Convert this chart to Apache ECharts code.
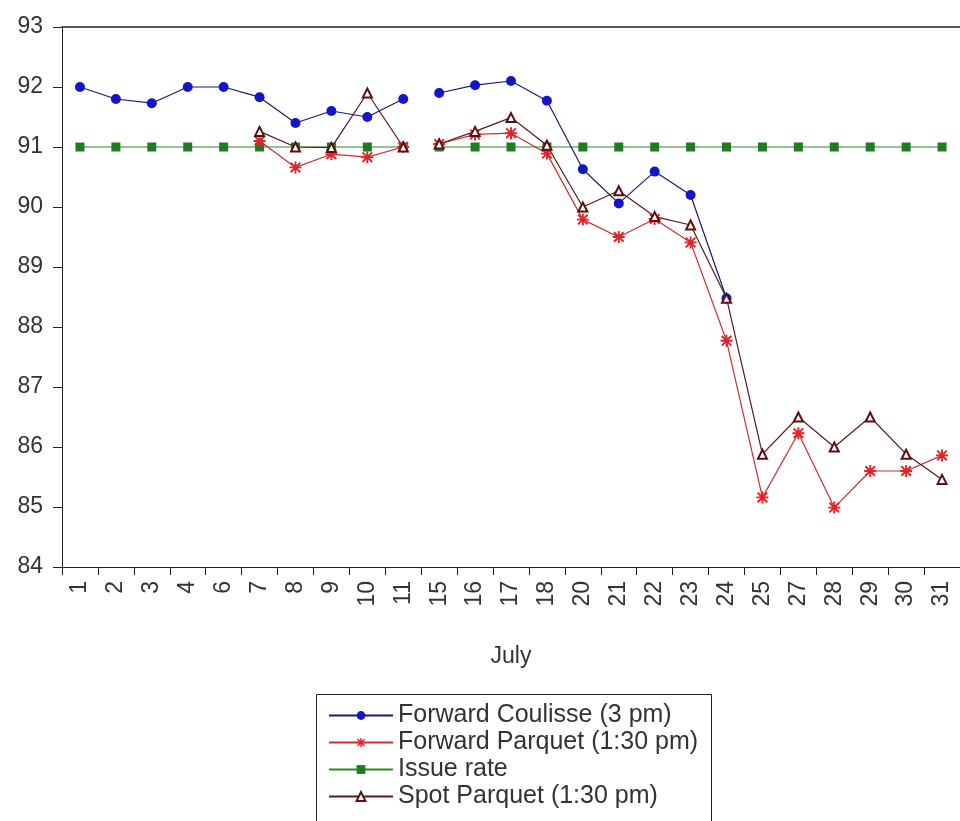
<!DOCTYPE html>
<html>
<head>
<meta charset="utf-8">
<script src="https://cdn.jsdelivr.net/npm/echarts@6/dist/echarts.min.js"></script>
<style>
html,body{margin:0;padding:0;background:#fff;}
#chart{width:960px;height:821px;}
</style>
</head>
<body>
<div id="chart"></div>
<script>
const categories = ['1','2','3','4','6','7','8','9','10','11','15','16','17','18','20','21','22','23','24','25','27','28','29','30','31'];
const forwardCoulisse = [92.0,91.8,91.73,92.0,92.0,91.83,91.4,91.6,91.5,91.8,91.9,92.03,92.1,91.77,90.63,90.06,90.59,90.2,88.48,null,null,null,null,null,null];
const forwardParquet = [null,null,null,null,null,91.1,90.66,90.88,90.83,91.0,91.05,91.21,91.23,90.89,89.79,89.5,89.8,89.41,87.77,85.16,86.23,84.99,85.6,85.6,85.86];
const issueRate = [91,91,91,91,91,91,91,91,91,91,91,91,91,91,91,91,91,91,91,91,91,91,91,91,91];
const spotParquet = [null,null,null,null,null,91.26,91.0,90.99,91.9,91.0,91.05,91.26,91.49,91.03,90.0,90.27,89.84,89.7,88.48,85.88,86.5,86.0,86.5,85.88,85.46];
const yTicks = ['84','85','86','87','88','89','90','91','92','93'];
const xAxisTitle = 'July';
const names = ['Forward Coulisse (3 pm)','Forward Parquet (1:30 pm)','Issue rate','Spot Parquet (1:30 pm)'];

const breakAt = 10; // lines are broken between "11" and "15"
function part(arr, first) {
  return arr.map((v, i) => (first ? i < breakAt : i >= breakAt) ? v : null);
}

const star = 'path://M4.2,0L5.8,0L5.8,10L4.2,10Z M0,4.2L10,4.2L10,5.8L0,5.8Z M1.57,0.43L9.57,8.43L8.43,9.57L0.43,1.57Z M9.57,1.57L1.57,9.57L0.43,8.43L8.43,0.43Z';

const styles = [
  {symbol:'circle', size:10, color:'#1414c8', line:'#1a1a70'},
  {symbol:star, size:12, color:'#e0242a', line:'#c83030'},
  {symbol:'rect', size:9, color:'#1e7d1e', line:'#2a8a2a'},
  {symbol:'emptyTriangle', size:9, color:'#5a1010', line:'#5a1a1a'}
];
const dataSets = [forwardCoulisse, forwardParquet, issueRate, spotParquet];

const series = [];
[true, false].forEach(first => {
  dataSets.forEach((d, k) => {
    const s = styles[k];
    series.push({
      name: names[k],
      type: 'line',
      data: part(d, first),
      symbol: s.symbol,
      symbolSize: s.size,
      showSymbol: true,
      connectNulls: false,
      animation: false,
      itemStyle: {color: s.color, borderColor: s.color, borderWidth: k === 3 ? 1.2 : 0},
      lineStyle: {color: s.line, width: 1.2},
      emphasis: {disabled: true},
      z: k === 2 ? 2 : 3
    });
  });
});

const chart = echarts.init(document.getElementById('chart'), null, {renderer: 'canvas'});
chart.setOption({
  animation: false,
  backgroundColor: '#fff',
  textStyle: {fontFamily: 'Liberation Sans, Arial, sans-serif'},
  grid: {left: 62, top: 27, width: 900, height: 540, show: false, containLabel: false},
  legend: {
    data: names,
    orient: 'vertical',
    left: 316,
    top: 694,
    height: 120,
    padding: [9, 14, 0, 12],
    itemGap: 2,
    itemWidth: 64,
    itemHeight: 11,
    textStyle: {fontSize: 25, color: '#333', lineHeight: 24, fontFamily: 'Liberation Sans, Arial, sans-serif'},
    selectedMode: false
  },
  graphic: [{
    type: 'rect',
    shape: {x: 316.5, y: 694.5, width: 395, height: 140},
    style: {fill: 'none', stroke: '#222', lineWidth: 1},
    silent: true
  }],
  xAxis: [{
    type: 'category',
    data: categories,
    boundaryGap: true,
    name: xAxisTitle,
    nameLocation: 'middle',
    nameGap: 78,
    nameTextStyle: {fontSize: 23, color: '#333'},
    axisLine: {show: true, lineStyle: {color: '#222', width: 1}},
    axisTick: {show: true, length: 8, alignWithLabel: false, lineStyle: {color: '#222'}},
    axisLabel: {rotate: 90, fontSize: 23, color: '#333', margin: 14, interval: 0},
    splitLine: {show: false}
  }, {
    type: 'category',
    data: categories,
    position: 'top',
    boundaryGap: true,
    axisLine: {show: true, lineStyle: {color: '#222', width: 1.5}},
    axisTick: {show: false},
    axisLabel: {show: false},
    splitLine: {show: false}
  }],
  yAxis: {
    type: 'value',
    min: 84,
    max: 93,
    interval: 1,
    axisLine: {show: true, lineStyle: {color: '#222', width: 1}},
    axisTick: {show: true, length: 9, lineStyle: {color: '#222'}},
    axisLabel: {fontSize: 23, color: '#333', margin: 19, formatter: (v) => yTicks[Math.round(v - 84)]},
    splitLine: {show: false}
  },
  series: series
});
</script>
</body>
</html>
